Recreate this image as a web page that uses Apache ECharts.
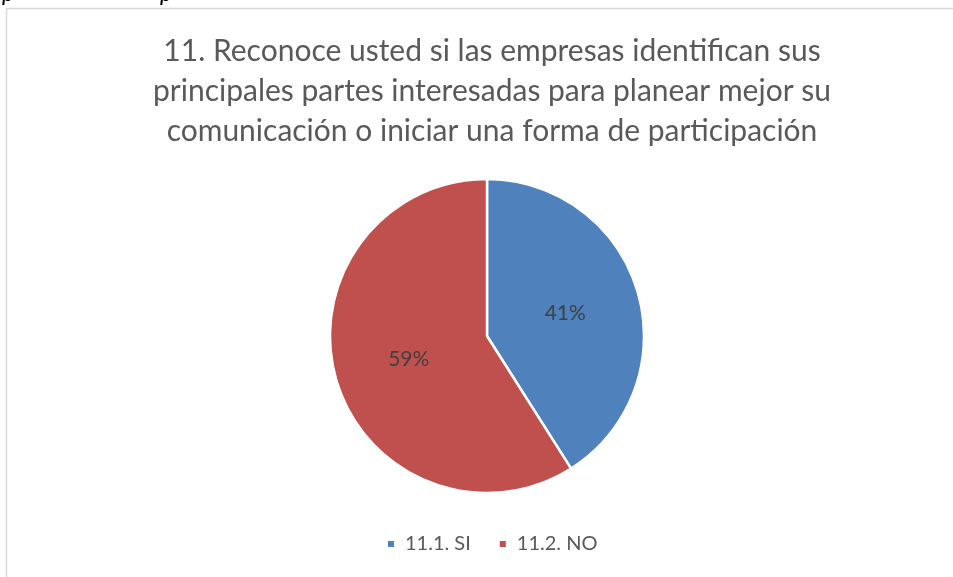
<!DOCTYPE html>
<html>
<head>
<meta charset="utf-8">
<script src="https://cdn.jsdelivr.net/npm/echarts@6/dist/echarts.min.js"></script>
<style>
  html, body { margin: 0; padding: 0; background: #fff; }
  #chart { width: 953px; height: 577px; }
</style>
</head>
<body>
<div id="chart"></div>
<script>
var titleText = '11. Reconoce usted si las empresas identifican sus\nprincipales partes interesadas para planear mejor su\ncomunicación o iniciar una forma de participación';
var categories = ['11.1. SI', '11.2. NO'];
var values = [41, 59];
var colors = ['#4F81BD', '#C0504D'];

var pieData = [];
for (var i = 0; i < categories.length; i++) {
    pieData.push({ name: categories[i], value: values[i] });
}

var chart = echarts.init(document.getElementById('chart'));
var option = {
    animation: false,
    color: colors,
    textStyle: { fontFamily: 'Lato' },
    title: {
        text: titleText,
        left: 487,
        top: 26,
        textAlign: 'center',
        textStyle: {
            fontFamily: 'Lato',
            fontSize: 30,
            fontWeight: 'normal',
            color: '#595959',
            lineHeight: 40
        }
    },
    legend: {
        data: categories,
        top: 534,
        left: 386,
        icon: 'rect',
        itemWidth: 8,
        itemHeight: 8,
        itemGap: 27,
        padding: 0,
        textStyle: { fontFamily: 'Lato', fontSize: 20, color: '#595959', padding: [0, 0, 0, 5] }
    },
    graphic: [
        {
            type: 'rect',
            shape: { x: 6.5, y: 8.5, width: 980, height: 620 },
            style: { fill: 'none', stroke: '#d9d9d9', lineWidth: 1.5 },
            silent: true
        },
        {
            type: 'text',
            x: 2, y: -19,
            style: { text: 'p', fontFamily: 'Lato', fontStyle: 'italic', fontSize: 24, fill: '#000', verticalAlign: 'top' },
            silent: true
        },
        {
            type: 'text',
            x: 160, y: -19,
            style: { text: 'p', fontFamily: 'Lato', fontStyle: 'italic', fontSize: 24, fill: '#000', verticalAlign: 'top' },
            silent: true
        }
    ],
    series: [
        {
            type: 'pie',
            center: [487, 336],
            radius: 157,
            startAngle: 90,
            clockwise: true,
            data: pieData,
            itemStyle: { borderColor: '#fff', borderWidth: 2.5 },
            label: {
                position: 'inside',
                formatter: '{d}%',
                fontFamily: 'Lato',
                fontSize: 21,
                color: '#404040'
            },
            labelLine: { show: false },
            emphasis: { disabled: true }
        }
    ]
};
chart.setOption(option);
</script>
</body>
</html>
